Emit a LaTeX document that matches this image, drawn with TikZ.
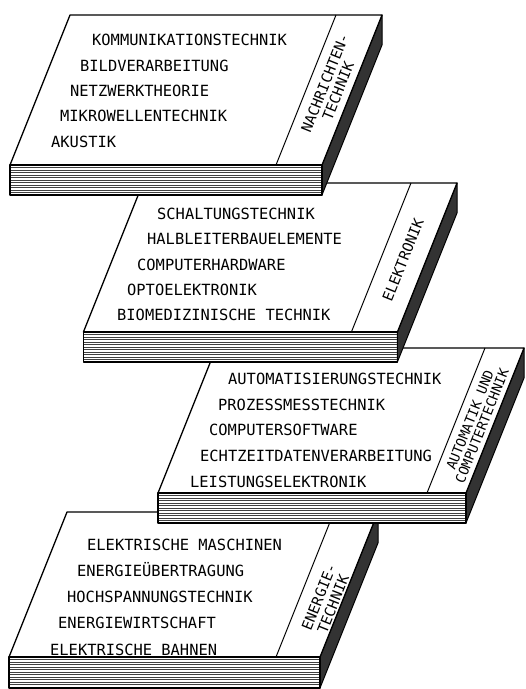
\documentclass[tikz,border=0pt]{standalone}
\usepackage{fontspec}
\newfontfamily\labfont{DejaVu Sans Mono}
\newcommand\drawslab[6]{%
 \pgfmathsetmacro\xa{#1}\pgfmathsetmacro\ya{#2}%
 \pgfmathsetmacro\xb{#1+#3}%
 \pgfmathsetmacro\yb{#2+#4}%
 \pgfmathsetmacro\xc{#1+#3-0.4*#4}%
 \pgfmathsetmacro\xd{#1-0.4*#4}%
 \pgfmathsetmacro\yt{#2+#4+#5}%
 \pgfmathsetmacro\yr{#2+#5}%
 \pgfmathsetmacro\xs{#1+#3-#6}%
 \pgfmathsetmacro\xsb{#1+#3-#6-0.4*#4}%
 \fill[white] (\xa,\ya) -- (\xb,\ya) -- (\xb,\yr) -- (\xc,\yt) -- (\xd,\yt) -- (\xd,\yb) -- cycle;
 \draw[sidefill] (\xb,\ya) -- (\xb,\yr) -- (\xc,\yt) -- (\xc,\yb) -- cycle;
 \draw[face] (\xa,\ya) -- (\xb,\ya) -- (\xc,\yb) -- (\xd,\yb) -- cycle;
 \foreach \k in {2.5,5,...,28} \draw[stripe] (\xd,\yb+\k) -- (\xc,\yb+\k);
 \draw[face,fill=none] (\xd,\yb) rectangle (\xc,\yt);
 \draw[divider] (\xs,\ya) -- (\xsb,\yb);
}
\begin{document}
\begin{tikzpicture}[x=1pt,y=-1pt,
  face/.style={fill=white,draw=black,line width=1.3pt,line join=round},
  sidefill/.style={fill=black!80,draw=black,line width=1pt,line join=round},
  stripe/.style={draw=black!75,line width=0.6pt},
  divider/.style={draw=black,line width=1pt},
  item/.style={anchor=west,inner sep=0pt,text height=11pt,text depth=0pt,font=\labfont\fontsize{15.4}{16}\selectfont},
  striplabel/.style={inner sep=0pt,rotate=68.2,font=\labfont\fontsize{14.5}{14}\selectfont}]
\useasboundingbox (0,0) rectangle (526,689);
\fill[white] (0,0) rectangle (526,689);

\drawslab{67}{512}{311}{145}{31}{44}
\drawslab{216}{348}{308}{145}{30}{39}
\drawslab{143}{183}{314}{149}{30}{46}
\drawslab{70}{15}{312}{150}{30}{46}

% slab 1
\node[item] (a1) at (92,39.5) {KOMMUNIKATIONSTECHNIK};
\node[item] (a2) at (80,65.5) {BILDVERARBEITUNG};
\node[item] (a3) at (70,90.5) {NETZWERKTHEORIE};
\node[item] (a4) at (60,116) {MIKROWELLENTECHNIK};
\node[item] (a5) at (51,141.5) {AKUSTIK};
\node[striplabel] (la1) at (325,83) {NACHRICHTEN-};
\node[striplabel] (la2) at (338,91) {TECHNIK};
% slab 2
\node[item] (b1) at (157,213.5) {SCHALTUNGSTECHNIK};
\node[item] (b2) at (147,239) {HALBLEITERBAUELEMENTE};
\node[item] (b3) at (137,265) {COMPUTERHARDWARE};
\node[item] (b4) at (127,290) {OPTOELEKTRONIK};
\node[item] (b5) at (117,315) {BIOMEDIZINISCHE TECHNIK};
\node[striplabel] (lb) at (403,260) {ELEKTRONIK};
% slab 3
\node[item] (c1) at (228,379) {AUTOMATISIERUNGSTECHNIK};
\node[item] (c2) at (218,405) {PROZESSMESSTECHNIK};
\node[item] (c3) at (209,430) {COMPUTERSOFTWARE};
\node[item] (c4) at (200,456) {ECHTZEITDATENVERARBEITUNG};
\node[item] (c5) at (190,482) {LEISTUNGSELEKTRONIK};
\node[striplabel,font=\labfont\fontsize{13.5}{13}\selectfont] (lc1) at (470,420) {AUTOMATIK UND};
\node[striplabel,font=\labfont\fontsize{13.5}{13}\selectfont] (lc2) at (482,426) {COMPUTERTECHNIK};
% slab 4
\node[item] (d1) at (87,545) {ELEKTRISCHE MASCHINEN};
\node[item] (d2) at (77,571) {ENERGIEÜBERTRAGUNG};
\node[item] (d3) at (67,597) {HOCHSPANNUNGSTECHNIK};
\node[item] (d4) at (58,623) {ENERGIEWIRTSCHAFT};
\node[item] (d5) at (50,650) {ELEKTRISCHE BAHNEN};
\node[striplabel] (ld1) at (319,597) {ENERGIE-};
\node[striplabel] (ld2) at (333,604) {TECHNIK};
\end{tikzpicture}
\end{document}
